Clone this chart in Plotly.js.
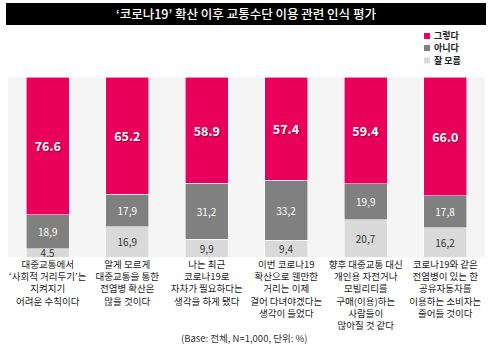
<!DOCTYPE html>
<html>
<head>
<meta charset="utf-8">
<script src="https://cdn.plot.ly/plotly-3.0.1.min.js"></script>
<style>html,body{margin:0;padding:0;background:#fff;}#chart{width:494px;height:355px;}</style>
</head>
<body>
<div id="chart"></div>
<script>
// ---- data ----
const categories = [
  "대중교통에서<br>‘사회적 거리두기’는<br>지켜지기<br>어려운 수칙이다",
  "알게 모르게<br>대중교통을 통한<br>전염병 확산은<br>많을 것이다",
  "나는 최근<br>코로나19로<br>자차가 필요하다는<br>생각을 하게 됐다",
  "이번 코로나19<br>확산으로 웬만한<br>거리는 이제<br>걸어 다녀야겠다는<br>생각이 들었다",
  "향후 대중교통 대신<br>개인용 자전거나<br>모빌리티를<br>구매(이용)하는<br>사람들이<br>많아질 것 같다",
  "코로나19와 같은<br>전염병이 있는 한<br>공유자동차를<br>이용하는 소비자는<br>줄어들 것이다"
];
const seriesNames = ["그렇다", "아니다", "잘 모름"];
const yesValues = [76.6, 65.2, 58.9, 57.4, 59.4, 66.0];
const noValues = [18.9, 17.9, 31.2, 33.2, 19.9, 17.8];
const dkValues = [4.5, 16.9, 9.9, 9.4, 20.7, 16.2];
const titleText = "‘코로나19’ 확산 이후 교통수단 이용 관련 인식 평가";
const noteText = "(Base: 전체, N=1,000, 단위: %)";

// ---- styles ----
const colors = ["#e8005a", "#808080", "#d9d9d9"];
const FONT = "'Noto Sans CJK KR', 'Noto Sans', sans-serif";
const fmtDot = v => v.toFixed(1);
const fmtComma = v => v.toFixed(1).replace('.', ',');

const lineStyle = {color: "rgba(255,255,255,0.7)", width: 0.8};

const traces = [
  {
    type: "bar", name: seriesNames[2], x: categories, y: dkValues,
    marker: {color: colors[2], line: lineStyle},
    text: dkValues.map(fmtComma), textposition: "inside", insidetextanchor: "middle", textangle: 0,
    constraintext: "none", textfont: {family: FONT, size: 10, color: "#333"},
    hoverinfo: "skip", showlegend: false
  },
  {
    type: "bar", name: seriesNames[1], x: categories, y: noValues,
    marker: {color: colors[1], line: lineStyle},
    text: noValues.map(fmtComma), textposition: "inside", insidetextanchor: "middle", textangle: 0,
    constraintext: "none", textfont: {family: FONT, size: 10, color: "#ffffff"},
    hoverinfo: "skip", showlegend: false
  },
  {
    type: "bar", name: seriesNames[0], x: categories, y: yesValues,
    marker: {color: colors[0], line: lineStyle},
    text: yesValues.map(fmtDot), textposition: "inside", insidetextanchor: "middle", textangle: 0,
    constraintext: "none",
    textfont: {family: FONT, size: 12.5, color: "#ffffff", weight: 700, shadow: "1px 1px 1px rgba(0,0,0,0.35)"},
    hoverinfo: "skip", showlegend: false
  }
];

// plot area geometry in px (for paper conversions)
const L = 8, R = 9, T = 77, B = 98, W = 494, H = 355;
const pw = W - L - R, ph = H - T - B;
const px = x => (x - L) / pw;
const py = y => (H - B - y) / ph;

const legendYs = [36, 48, 60.5];
const shapes = [
  {type: "rect", xref: "paper", yref: "paper", x0: px(6), x1: px(486), y0: py(25), y1: py(3),
   fillcolor: "#000000", line: {width: 0}, layer: "above"}
];
const annotations = [
  {xref: "paper", yref: "paper", x: px(246), y: py(14), xanchor: "center", yanchor: "middle",
   text: titleText, showarrow: false, font: {family: FONT, size: 12.5, color: "#ffffff", weight: 500}},
  {xref: "paper", yref: "paper", x: px(243.5), y: py(338), xanchor: "center", yanchor: "middle",
   text: noteText, showarrow: false, font: {family: FONT, size: 9.5, color: "#333333"}}
];
seriesNames.forEach((n, i) => {
  const cy = legendYs[i];
  shapes.push({type: "rect", xref: "paper", yref: "paper", x0: px(424), x1: px(430), y0: py(cy + 3), y1: py(cy - 3),
    fillcolor: colors[i], line: {width: 0}});
  annotations.push({xref: "paper", yref: "paper", x: px(433), y: py(cy), xanchor: "left", yanchor: "middle",
    text: n, showarrow: false, borderpad: 0, font: {family: FONT, size: 9, color: "#222222", weight: 700}});
});

const layout = {
  width: W, height: H,
  margin: {l: L, r: R, t: T, b: B, pad: 0},
  barmode: "stack", bargap: 0.46,
  paper_bgcolor: "#ffffff", plot_bgcolor: "#f5f5f5",
  showlegend: false,
  font: {family: FONT},
  xaxis: {
    type: "category", showgrid: false, zeroline: false, showline: false, ticks: "",
    tickfont: {family: FONT, size: 9.5, color: "#222222"}, fixedrange: true
  },
  yaxis: {range: [0, 100], showgrid: false, zeroline: false, showticklabels: false, fixedrange: true},
  shapes: shapes,
  annotations: annotations
};

Plotly.newPlot("chart", traces, layout, {staticPlot: true, displayModeBar: false});
</script>
</body>
</html>
